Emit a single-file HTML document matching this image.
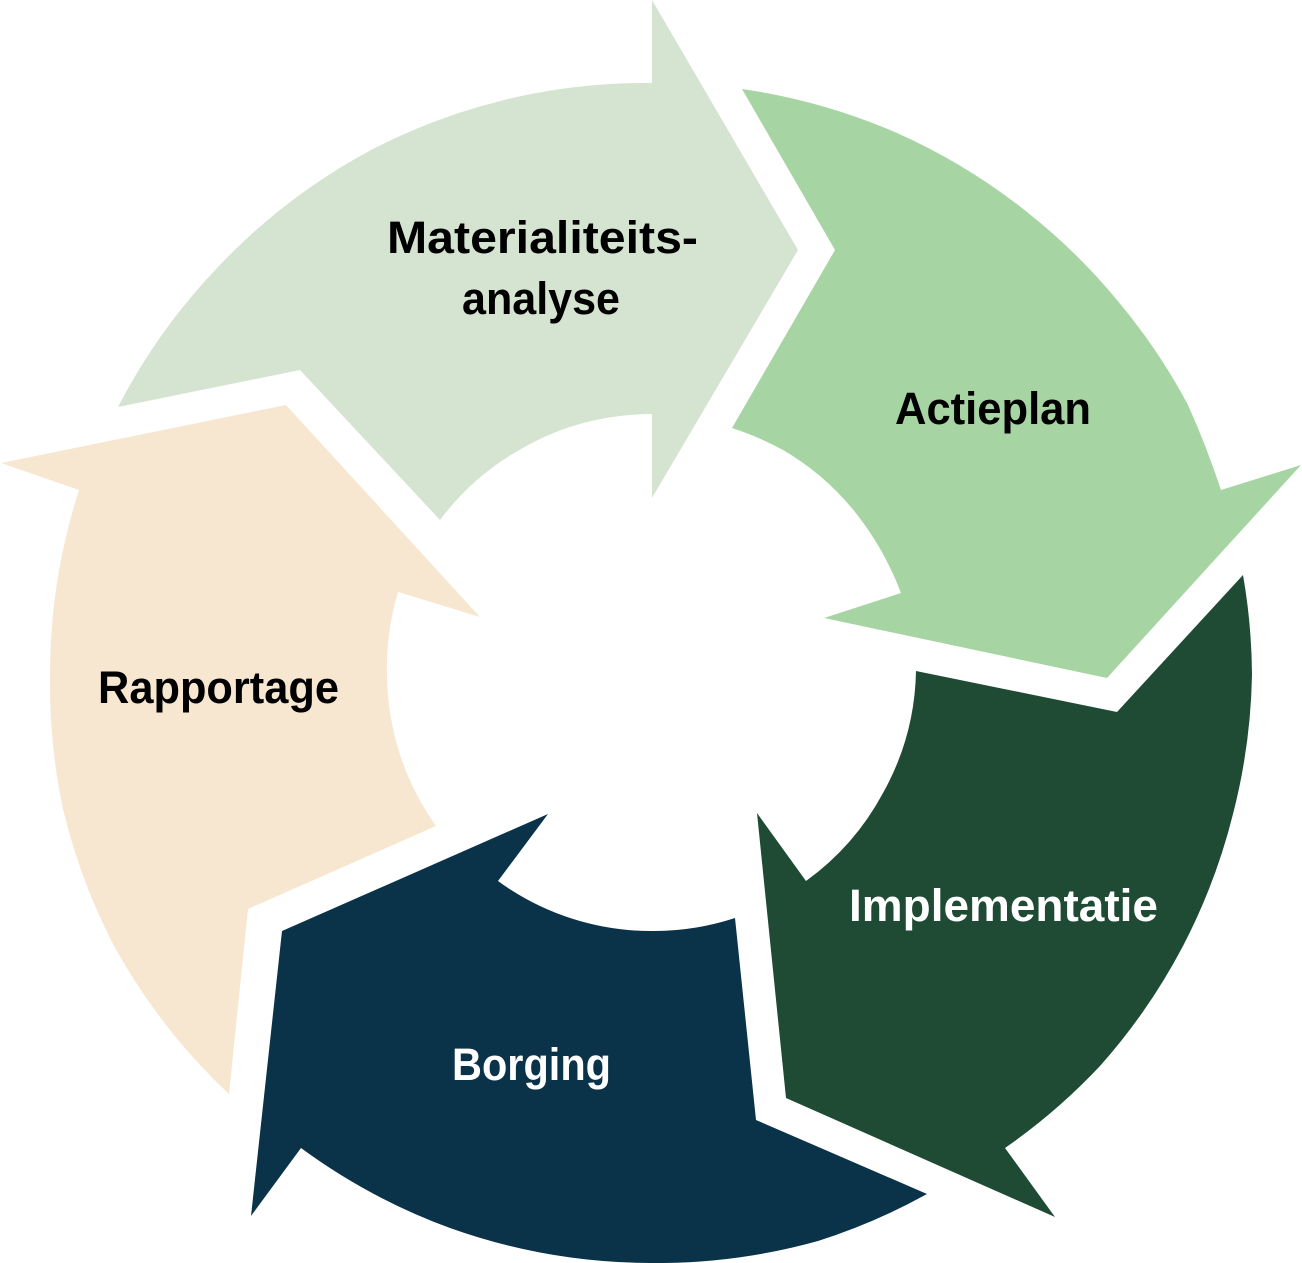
<!DOCTYPE html>
<html lang="nl">
<head>
<meta charset="utf-8">
<title>Cyclus</title>
<style>
html,body{margin:0;padding:0;background:#fff;width:1302px;height:1263px;overflow:hidden}
svg{display:block}
text{font-family:"Liberation Sans",sans-serif;font-weight:700;font-size:45px}
</style>
</head>
<body>
<svg width="1302" height="1263" viewBox="0 0 1302 1263" xmlns="http://www.w3.org/2000/svg">
<path fill="#D5E4D0" d="M118,407 A600,600 0 0 1 218,267 A600,600 0 0 1 371,150 A600,600 0 0 1 504,100 A600,600 0 0 1 652,83 L652,0 L798,250 L652,498 L652,414 A260,260 0 0 0 521,449 A260,260 0 0 0 440,520 L300,370 Z"/>
<path fill="#A7D4A3" d="M742,89 A600,600 0 0 1 897,133 A600,600 0 0 1 1027,212 A600,600 0 0 1 1117,300 A600,600 0 0 1 1188,405 A900,900 0 0 1 1221,490 L1301,465 L1107,678 L824,618 L901,593 A300,300 0 0 0 855,512 A260,260 0 0 0 783,450 A300,300 0 0 0 732,428 L835,250 Z"/>
<path fill="#1F4B35" d="M1243,575 A600,600 0 0 1 1252,675 A600,600 0 0 1 1233,814 A600,600 0 0 1 1183,946 A600,600 0 0 1 1100,1066 A600,600 0 0 1 1005,1148 L1055,1217 L786,1098 L757,813 L806,881 A260,260 0 0 0 883,793 A260,260 0 0 0 916,671 L1117,712 Z"/>
<path fill="#0A3349" d="M282,931 L548,814 L498,881 A260,260 0 0 0 655,931 A260,260 0 0 0 735,918 L756,1120 L927,1194 A600,600 0 0 1 818,1241 A600,600 0 0 1 650,1263 A600,600 0 0 1 450,1228 A600,600 0 0 1 301,1148 L251,1216 Z"/>
<path fill="#F7E7D1" d="M1,463 L286,405 L480,617 L398,592 A265,265 0 0 0 387,675 A265,265 0 0 0 436,826 L248,909 L229,1094 A600,600 0 0 1 113,944 A600,600 0 0 1 63,809 A600,600 0 0 1 50,674 A600,600 0 0 1 79,490 Z"/>
<text x="387" y="253" textLength="311" lengthAdjust="spacingAndGlyphs" fill="#000">Materialiteits-</text>
<text x="462" y="314" textLength="158" lengthAdjust="spacingAndGlyphs" fill="#000">analyse</text>
<text x="895" y="424" textLength="196" lengthAdjust="spacingAndGlyphs" fill="#000">Actieplan</text>
<text x="849" y="921" textLength="309" lengthAdjust="spacingAndGlyphs" fill="#fff">Implementatie</text>
<text x="452" y="1080" textLength="159" lengthAdjust="spacingAndGlyphs" fill="#fff">Borging</text>
<text x="98" y="703" textLength="241" lengthAdjust="spacingAndGlyphs" fill="#000">Rapportage</text>
</svg>
</body>
</html>
